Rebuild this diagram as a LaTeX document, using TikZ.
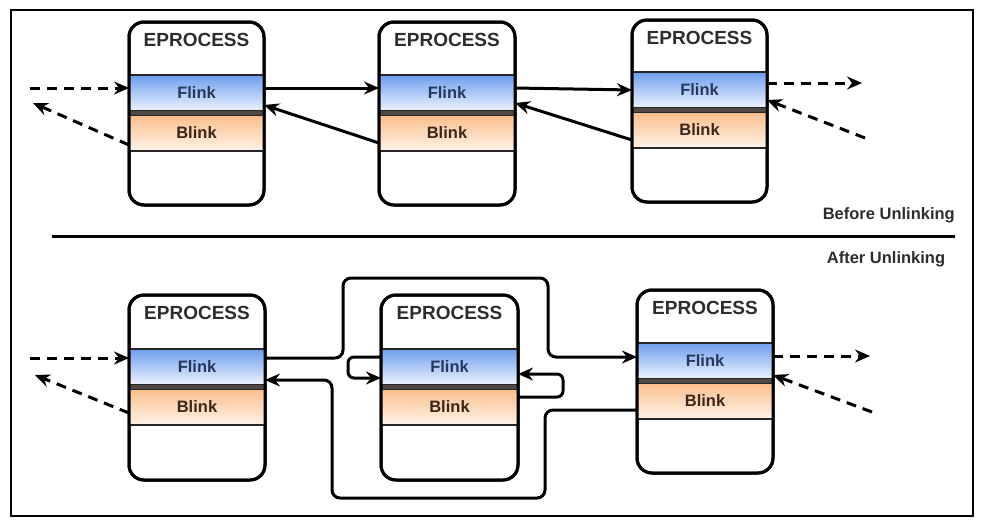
\documentclass[tikz,border=0pt]{standalone}
\usepackage{fontspec}
\setmainfont{Liberation Sans}
\usetikzlibrary{arrows.meta}
\definecolor{flinktop}{RGB}{110,158,238}
\definecolor{flinkbot}{RGB}{238,244,255}
\definecolor{blinktop}{RGB}{250,190,140}
\definecolor{blinkbot}{RGB}{255,243,232}
\definecolor{gapgray}{RGB}{80,72,66}
\definecolor{titlegray}{RGB}{45,45,45}
\definecolor{flinktext}{RGB}{38,55,92}
\definecolor{blinktext}{RGB}{58,38,26}
\tikzset{
  procbox/.style={draw=black, fill=white, line width=3pt, rounded corners=15pt, inner sep=0pt, outer sep=0pt},
  procline/.style={draw=black, line width=3pt, rounded corners=15pt, inner sep=0pt, outer sep=0pt},
  titletext/.style={font=\fontsize{19}{21}\selectfont\bfseries, text=titlegray, inner sep=0pt},
  flinkbox/.style={draw=black!85, line width=1.5pt, top color=flinktop, bottom color=flinkbot, minimum height=36pt, inner sep=0pt, outer sep=0pt, font=\fontsize{16.5}{18}\selectfont\bfseries, text=flinktext},
  blinkbox/.style={draw=black!85, line width=1.5pt, top color=blinktop, bottom color=blinkbot, minimum height=36pt, inner sep=0pt, outer sep=0pt, font=\fontsize{16.5}{18}\selectfont\bfseries, text=blinktext},
  labeltext/.style={font=\fontsize{16.5}{18}\selectfont\bfseries, text=titlegray, inner sep=0pt},
  arr/.style={line width=3pt, -{Stealth[length=15pt,width=13pt,inset=5pt]}},
  darr/.style={arr, dash pattern=on 10pt off 7pt},
  loop/.style={arr, rounded corners=8pt},
}
\newcommand\eproc[6]{%
  \pgfmathsetmacro\ew{#3-#2}%
  \pgfmathsetmacro\eh{#5-#4}%
  \pgfmathsetmacro\ecx{(#2+#3)/2}%
  \node[procbox, minimum width=\ew pt, minimum height=\eh pt, anchor=north west] (#1) at (#2,#4) {};
  \node[titletext] (#1t) at (\ecx,#4+18) {EPROCESS};
  \node[flinkbox, minimum width=\ew pt, anchor=north west] (#1f) at (#2,#6) {Flink};
  \node[blinkbox, minimum width=\ew pt, anchor=north west] (#1b) at (#2,#6+40) {Blink};
  \fill[gapgray] (#1f.south west) rectangle (#1b.north east);
  \node[procline, minimum width=\ew pt, minimum height=\eh pt, anchor=north west] at (#2,#4) {};
}
\begin{document}
\begin{tikzpicture}[x=1pt,y=-1pt]
\useasboundingbox (0,0) rectangle (988,528);
\draw[line width=2.4pt] (11,10) rectangle (973,516);

% top row
\eproc{p1}{129}{264}{22}{205}{75}
\eproc{p2}{379}{515}{22}{205}{75}
\eproc{p3}{632}{767}{20}{202}{72}
% bottom row
\eproc{p4}{129}{265}{295}{480}{349}
\eproc{p5}{381}{518}{295}{480}{349}
\eproc{p6}{637}{773}{290}{473}{343}

% separator and labels
\coordinate (sepL) at (52,236);
\coordinate (sepR) at (955,236);
\draw[line width=3pt] (sepL) -- (sepR);
\node[labeltext, anchor=east] (before) at (955,215) {Before Unlinking};
\node[labeltext] (after) at (886,259) {After Unlinking};

% top row connectors
\draw[arr] ([yshift=5pt]p1f.east) -- ([yshift=5pt]p2f.west);
\draw[arr] ([yshift=-10pt]p2b.west) -- ([yshift=-12pt]p1f.east);
\draw[arr] ([yshift=5pt]p2f.east) -- (p3f.west);
\draw[arr] ([yshift=-10pt]p3b.west) -- ([yshift=-10pt]p2f.east);

\coordinate (inL1) at (30,88);
\coordinate (outL1) at (33,103);
\coordinate (outR1) at (862,83);
\coordinate (inR1) at (865,138);
\draw[darr] (inL1) -- ([yshift=5pt]p1f.west);
\draw[darr] ([yshift=-12pt]p1b.west) -- (outL1);
\draw[darr] ([yshift=7pt]p3f.east) -- (outR1);
\draw[darr] (inR1) -- ([yshift=-10pt]p3f.east);

% bottom row connectors
\coordinate (inL2) at (30,358);
\coordinate (outL2) at (35,375);
\coordinate (outR2) at (870,356);
\coordinate (inR2) at (872,412);
\draw[darr] (inL2) -- ([yshift=9pt]p4f.west);
\draw[darr] ([yshift=-6pt]p4b.west) -- (outL2);
\draw[darr] ([yshift=5pt]p6f.east) -- (outR2);
\draw[darr] (inR2) -- ([yshift=-14pt]p6f.east);

\draw[loop] ([yshift=9pt]p4f.east) -| (343,278) -| (548,357) -- ([yshift=4pt]p6f.west);
\draw[loop] ([yshift=-9pt]p6b.west) -| (545,498) -| (332,380) -- ([yshift=-13pt]p4f.east);
\draw[arr, rounded corners=6pt] ([yshift=10pt]p5f.west) -- ++(-33,0) |- ([yshift=-11pt]p5f.west);
\draw[arr, rounded corners=6pt] ([yshift=10pt]p5b.east) -- ++(45,0) |- ([yshift=-7pt]p5f.east);
\end{tikzpicture}
\end{document}
